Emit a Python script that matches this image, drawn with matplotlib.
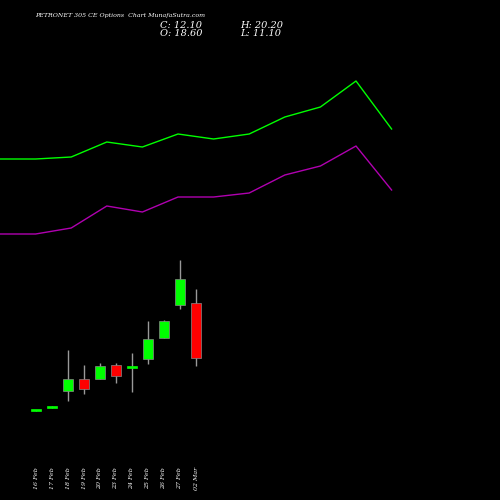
import matplotlib
matplotlib.use('Agg')
import matplotlib.pyplot as plt

dates = ["16 Feb", "17 Feb", "18 Feb", "19 Feb", "20 Feb", "23 Feb", "24 Feb",
         "25 Feb", "26 Feb", "27 Feb", "02 Mar"]
opens = [5.85, 6.2, 8.2, 9.6, 9.6, 11.3, 10.9, 12.0, 14.45, 18.4, 18.6]
closes = [6.0, 6.4, 9.6, 8.4, 11.15, 10.0, 11.15, 14.35, 16.5, 21.4, 12.1]
highs = [6.0, 6.4, 13.05, 11.3, 11.5, 11.5, 12.7, 16.5, 16.6, 23.7, 20.2]
lows = [5.85, 6.2, 7.0, 7.8, 9.6, 9.1, 8.1, 11.4, 14.45, 17.9, 11.1]

upper = [341, 341, 343, 358, 353, 366, 361, 366, 383, 393, 419, 371]
lower = [266, 266, 272, 294, 288, 303, 303, 307, 325, 334, 354, 310]

fig = plt.figure(figsize=(5, 5), dpi=100, facecolor='black')

# indicator lines
ax2 = fig.add_axes([0, 0, 1, 1])
ax2.set_facecolor('black')
ax2.plot(range(len(upper)), upper, color='#00ff00', linewidth=1)
ax2.plot(range(len(lower)), lower, color='#b000b0', linewidth=1)
ax2.set_xlim(0, 500 / 35.6)
ax2.set_ylim(0, 500)
ax2.axis('off')

# candles
ax = fig.add_axes([0, 0, 1, 1])
ax.patch.set_alpha(0)
for i in range(len(dates)):
    col = '#00ff00' if closes[i] >= opens[i] else '#ff0000'
    ax.vlines(i, lows[i], highs[i], color='#999999', linewidth=1, zorder=1)
    lo = min(opens[i], closes[i])
    h = max(abs(closes[i] - opens[i]), 0.25)
    ax.bar(i, h, bottom=lo, width=0.6, color=col,
           edgecolor=col if h < 0.5 else '#888888', linewidth=0.5, zorder=2)
    ax.text(i, -0.8, dates[i], rotation=90, color='white', fontsize=4.5,
            family='serif', style='italic', ha='center', va='top')
ax.set_xlim(-36 / 16, 464 / 16)
ax.set_ylim(-4.68, 54.4)
ax.axis('off')

fig.text(0.07, 0.97, "PETRONET 305 CE Options  Chart MunafaSutra.com", color='white',
         fontsize=4.5, family='serif', style='italic', va='center')
fig.text(0.32, 0.95, "C: 12.10", color='white', fontsize=7, family='serif',
         style='italic', va='center')
fig.text(0.32, 0.932, "O: 18.60", color='white', fontsize=7, family='serif',
         style='italic', va='center')
fig.text(0.48, 0.95, "H: 20.20", color='white', fontsize=7, family='serif',
         style='italic', va='center')
fig.text(0.48, 0.932, "L: 11.10", color='white', fontsize=7, family='serif',
         style='italic', va='center')

fig.savefig('out.png', dpi=100, facecolor='black')
